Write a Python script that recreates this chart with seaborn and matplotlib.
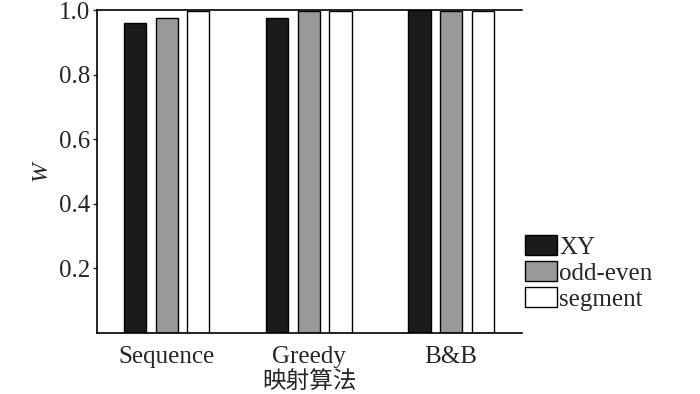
import matplotlib
matplotlib.use("Agg")
import matplotlib.pyplot as plt
import seaborn as sns
import pandas as pd

categories = ["Sequence", "Greedy", "B&B"]
series = ["XY", "odd-even", "segment"]
xy_vals = [0.960, 0.975, 1.000]
oddeven_vals = [0.975, 0.997, 0.997]
segment_vals = [0.997, 0.997, 0.997]
yticks = [0.2, 0.4, 0.6, 0.8, 1.0]

rows = []
for s, vals in zip(series, [xy_vals, oddeven_vals, segment_vals]):
    for c, v in zip(categories, vals):
        rows.append({"cat": c, "series": s, "W": v})
df = pd.DataFrame(rows)

sns.set_style("ticks")
plt.rcParams["font.family"] = ["Liberation Serif", "Noto Sans CJK SC"]

fig = plt.figure(figsize=(7, 3.94), dpi=100)
ax = fig.add_axes([0.1386, 0.1548, 0.746 - 0.1386, 0.9746 - 0.1548])
palette = {"XY": "#1b1b1b", "odd-even": "#999999", "segment": "#ffffff"}
sns.barplot(data=df, x="cat", y="W", hue="series", order=categories,
            hue_order=series, palette=palette, width=0.666, gap=0.3,
            edgecolor="black", linewidth=1.0, saturation=1, ax=ax)

ax.set_ylim(0, 1.0)
ax.set_xlim(-0.49, 2.5)
ax.set_yticks(yticks)
ax.set_yticklabels([f"{t:.1f}" for t in yticks], fontsize=18)
ax.tick_params(axis="y", length=3, width=1, direction="out", pad=2)
ax.tick_params(axis="x", length=0, pad=9, labelsize=18)
ax.set_xticks(range(len(categories)))
ax.set_xticklabels(categories)
ax.set_xlabel("映射算法", fontsize=17, family=["Noto Sans CJK SC"])
ax.xaxis.set_label_coords(0.5, -0.118)
ax.set_ylabel("W", fontsize=17, style="italic", labelpad=5)
for sp in ["left", "bottom", "top"]:
    ax.spines[sp].set_linewidth(1.2)
    ax.spines[sp].set_color("black")
ax.spines["right"].set_visible(False)

handles, labels = ax.get_legend_handles_labels()
ax.legend(handles, labels, loc="upper left", bbox_to_anchor=(0.972, 0.35),
          frameon=False, fontsize=18, handlelength=1.25, handleheight=0.85,
          handletextpad=0.1, labelspacing=0.1, borderaxespad=0.2)

fig.savefig("out.png", dpi=100)
